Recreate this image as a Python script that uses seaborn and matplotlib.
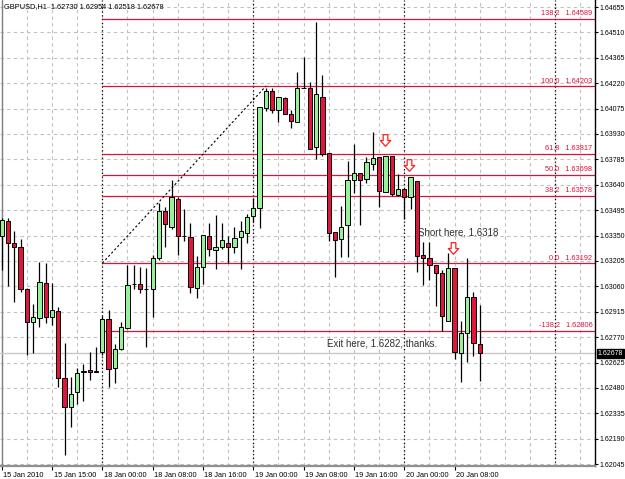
import matplotlib
matplotlib.use("Agg")
import matplotlib.pyplot as plt
import matplotlib.transforms as mtransforms
from matplotlib.path import Path
import numpy as np
import pandas as pd
import seaborn as sns

# ---------------- data (GBPUSD, H1) ----------------
opens = [
    1.63347, 1.63433, 1.63308, 1.63285, 1.63045, 1.62856, 1.62879, 1.63079, 1.62885, 1.62919,
    1.62537, 1.62371, 1.62457, 1.62568, 1.62582, 1.62571, 1.62685, 1.62874, 1.62594, 1.62702,
    1.62822, 1.63073, 1.63073, 1.63045, 1.63045, 1.63222, 1.63490, 1.63399, 1.63559, 1.63347,
    1.63342, 1.63051, 1.63170, 1.63347, 1.63268, 1.63285, 1.63308, 1.63285, 1.63342, 1.63365,
    1.63462, 1.63507, 1.64078, 1.64175, 1.64067, 1.64135, 1.64044, 1.63998, 1.64193, 1.64193,
    1.63856, 1.64141, 1.63821, 1.63370, 1.63330, 1.63410, 1.63667, 1.63707, 1.63673, 1.63759,
    1.63799, 1.63599, 1.63804, 1.63582, 1.63616, 1.63570, 1.63662, 1.63239, 1.63222, 1.63182,
    1.63136, 1.62862, 1.63165, 1.62679, 1.62794, 1.62999, 1.62730]
highs = [
    1.63450, 1.63450, 1.63376, 1.63330, 1.63051, 1.62959, 1.63199, 1.63193, 1.63079, 1.62942,
    1.62737, 1.62542, 1.62594, 1.62617, 1.62685, 1.62714, 1.62891, 1.62925, 1.62731, 1.62856,
    1.63182, 1.63182, 1.63170, 1.63165, 1.63239, 1.63536, 1.63513, 1.63667, 1.63570, 1.63502,
    1.63422, 1.63233, 1.63353, 1.63422, 1.63467, 1.63422, 1.63347, 1.63399, 1.63433, 1.63473,
    1.63564, 1.64084, 1.64193, 1.64193, 1.64141, 1.64141, 1.64067, 1.64284, 1.64370, 1.64227,
    1.64569, 1.64267, 1.63821, 1.63370, 1.63519, 1.63776, 1.63873, 1.63707, 1.63799, 1.63941,
    1.63799, 1.63804, 1.63804, 1.63702, 1.63616, 1.63684, 1.63662, 1.63313, 1.63313, 1.63182,
    1.63153, 1.63250, 1.63165, 1.62862, 1.63222, 1.63028, 1.62954]
lows = [
    1.63153, 1.63062, 1.62971, 1.63028, 1.62668, 1.62679, 1.62828, 1.62851, 1.62839, 1.62485,
    1.62097, 1.62257, 1.62388, 1.62405, 1.62525, 1.62568, 1.62668, 1.62485, 1.62508, 1.62697,
    1.62816, 1.63045, 1.63022, 1.62714, 1.62885, 1.63210, 1.63285, 1.63387, 1.63239, 1.63319,
    1.63022, 1.62993, 1.63073, 1.63233, 1.63159, 1.63273, 1.63193, 1.63250, 1.63159, 1.63308,
    1.63427, 1.63393, 1.64061, 1.64050, 1.63998, 1.64044, 1.63964, 1.63998, 1.64193, 1.63844,
    1.63787, 1.63804, 1.63319, 1.63113, 1.63228, 1.63228, 1.63593, 1.63410, 1.63650, 1.63724,
    1.63513, 1.63599, 1.63576, 1.63576, 1.63445, 1.63502, 1.63142, 1.63068, 1.63096, 1.62948,
    1.62805, 1.62862, 1.62645, 1.62514, 1.62628, 1.62662, 1.62518]
closes = [
    1.63439, 1.63308, 1.63285, 1.63045, 1.62856, 1.62885, 1.63085, 1.62885, 1.62925, 1.62537,
    1.62371, 1.62445, 1.62565, 1.62574, 1.62571, 1.62574, 1.62874, 1.62588, 1.62702, 1.62828,
    1.63068, 1.63073, 1.63045, 1.63045, 1.63222, 1.63490, 1.63416, 1.63570, 1.63347, 1.63347,
    1.63056, 1.63170, 1.63353, 1.63273, 1.63285, 1.63325, 1.63285, 1.63336, 1.63376, 1.63456,
    1.63507, 1.64084, 1.64175, 1.64067, 1.64141, 1.64044, 1.64004, 1.64193, 1.64193, 1.63844,
    1.64158, 1.63816, 1.63365, 1.63325, 1.63399, 1.63667, 1.63707, 1.63667, 1.63770, 1.63793,
    1.63604, 1.63804, 1.63587, 1.63616, 1.63570, 1.63684, 1.63233, 1.63222, 1.63182, 1.63136,
    1.62891, 1.63165, 1.62685, 1.62794, 1.62999, 1.62737, 1.62678]

time_label_bars = [0, 8, 16, 24, 32, 40, 48, 56, 64, 72]
time_labels = ["15 Jan 2010", "15 Jan 15:00", "18 Jan 00:00", "18 Jan 08:00", "18 Jan 16:00",
               "19 Jan 00:00", "19 Jan 08:00", "19 Jan 16:00", "20 Jan 00:00", "20 Jan 08:00"]
day_separator_bars = [16, 40, 64, 88]
price_ticks = [1.62045, 1.62190, 1.62335, 1.62480, 1.62625, 1.62770, 1.62915, 1.63060,
               1.63205, 1.63350, 1.63495, 1.63640, 1.63785, 1.63930, 1.64075, 1.64220,
               1.64365, 1.64510, 1.64655]

fib_levels = ["138.2", "100.0", "61.8", "50.0", "38.2", "0.0", "-138.2"]
fib_prices = [1.64589, 1.64203, 1.63817, 1.63698, 1.63578, 1.63192, 1.62806]
fib_start_bar = 16
fib_trend_bars = [16, 42]
fib_trend_prices = [1.63192, 1.64203]

arrow_bars = [60.9, 64.8, 71.8]
arrow_prices = [1.63896, 1.63753, 1.63281]

notes = ["Short here, 1.6318", "Exit here, 1.6282, thanks."]
note_bars = [66.2, 51.7]
note_prices = [1.63370, 1.62731]

symbol_title = "GBPUSD,H1  1.62730 1.62954 1.62518 1.62678"
last_price = 1.62678

# ---------------- style ----------------
sns.set_style("white")
plt.rcParams['font.family'] = ['Liberation Sans', 'DejaVu Sans']

BULL = "#98F098"
BEAR = "#E0163C"
FIB = "#DC143C"
GRID = "#C0C0C0"
FS = 5.3
FSY = 5.0

df = pd.DataFrame({"open": opens, "high": highs, "low": lows, "close": closes})
df["bar"] = np.arange(len(df))
df["bottom"] = df[["open", "close"]].min(axis=1)
df["height"] = (df["close"] - df["open"]).abs().clip(lower=0.000012)
df["color"] = np.where(df["close"] > df["open"], BULL, np.where(df["close"] < df["open"], BEAR, "black"))

fig = plt.figure(figsize=(6.25, 4.79), dpi=100)
ax = fig.add_axes([0, 13 / 479, 595 / 625, 466 / 479])
XMAX = 94.33
ax.set_xlim(-0.27, XMAX)
ax.set_ylim(1.62034, 1.64695)

# grid
ax.set_yticks(price_ticks)
ax.set_yticklabels([f"{p:.5f}" for p in price_ticks])
ax.set_xticks(time_label_bars)
ax.set_xticklabels(time_labels)
ax.set_xticks(np.arange(0, 95, 4), minor=True)
ax.grid(axis="y", which="major", color=GRID, linestyle=(0, (3, 3)), linewidth=0.8)
ax.grid(axis="x", which="both", color=GRID, linestyle=(0, (3, 3)), linewidth=0.8)
ax.set_axisbelow(True)

# day separators
for b in day_separator_bars:
    ax.axvline(b, color="black", linestyle=(0, (1, 2)), linewidth=0.9, zorder=1.2)

# left border
ax.axvline(0, color="#808080", linewidth=1.0, zorder=1.1)

# current price line
ax.axhline(last_price, color="#C8C8C8", linewidth=1.0, zorder=1.3)

# fib lines and labels
ax.hlines(fib_prices, fib_start_bar, XMAX, color=FIB, linewidth=0.9, zorder=1.4)
lbl_tr = mtransforms.blended_transform_factory(ax.transAxes, ax.transData)
for lev, p in zip(fib_levels, fib_prices):
    ax.text(0.9955, p, f"{lev}   {p:.5f}",
            transform=lbl_tr + mtransforms.ScaledTranslation(0, 1.5 / 100, fig.dpi_scale_trans),
            ha="right", va="bottom", fontsize=FS, color=FIB, zorder=4)
ax.plot(fib_trend_bars, fib_trend_prices, color="black", linestyle=(0, (2, 2)), linewidth=0.8, zorder=1.5)

# candles
ax.vlines(df["bar"], df["low"], df["high"], color="black", linewidth=0.9, zorder=2)
ax.bar(df["bar"], df["height"], bottom=df["bottom"], width=0.68, color=df["color"],
       edgecolor="black", linewidth=0.7, zorder=3)

# arrows (hollow down arrows)
arrow_path = Path([(-0.2, 0.5), (0.2, 0.5), (0.2, 0.0), (0.45, 0.0), (0.0, -0.5),
                   (-0.45, 0.0), (-0.2, 0.0), (-0.2, 0.5)], closed=True)
ax.scatter(arrow_bars, arrow_prices, marker=arrow_path, s=70, facecolor="white",
           edgecolor="#FF2020", linewidth=0.9, zorder=5)

# notes
for t, b, p in zip(notes, note_bars, note_prices):
    ax.text(b, p, t, ha="left", va="center", fontsize=7.0, color="#303030", zorder=4)

# axes appearance
for s in ["top", "left"]:
    ax.spines[s].set_visible(False)
ax.spines["right"].set_color("black")
ax.spines["right"].set_linewidth(1.0)
ax.spines["bottom"].set_color("#909090")
ax.spines["bottom"].set_linewidth(1.6)
ax.yaxis.tick_right()
ax.tick_params(axis="y", which="major", length=2.5, width=0.8, pad=0.8, labelsize=FSY, colors="black", right=True, left=False)
ax.tick_params(axis="x", which="major", length=3, width=0.8, pad=1, labelsize=FS, colors="black", bottom=True)
ax.tick_params(axis="x", which="minor", length=0)
for lab in ax.get_xticklabels():
    lab.set_horizontalalignment("left")
    lab.set_transform(lab.get_transform() + mtransforms.ScaledTranslation(1.5 / 100, 0, fig.dpi_scale_trans))

# price box
ax.text(1.0 + 2.5 / 595, last_price, f"{last_price:.5f}", transform=lbl_tr, ha="left", va="center",
        fontsize=FSY, color="white", zorder=6,
        bbox=dict(boxstyle="square,pad=0.12", facecolor="black", edgecolor="black"))

# header
fig.text(4 / 625, 1 - 7 / 479, symbol_title, ha="left", va="center", fontsize=FS, color="black")

fig.savefig("out.png", dpi=100)
